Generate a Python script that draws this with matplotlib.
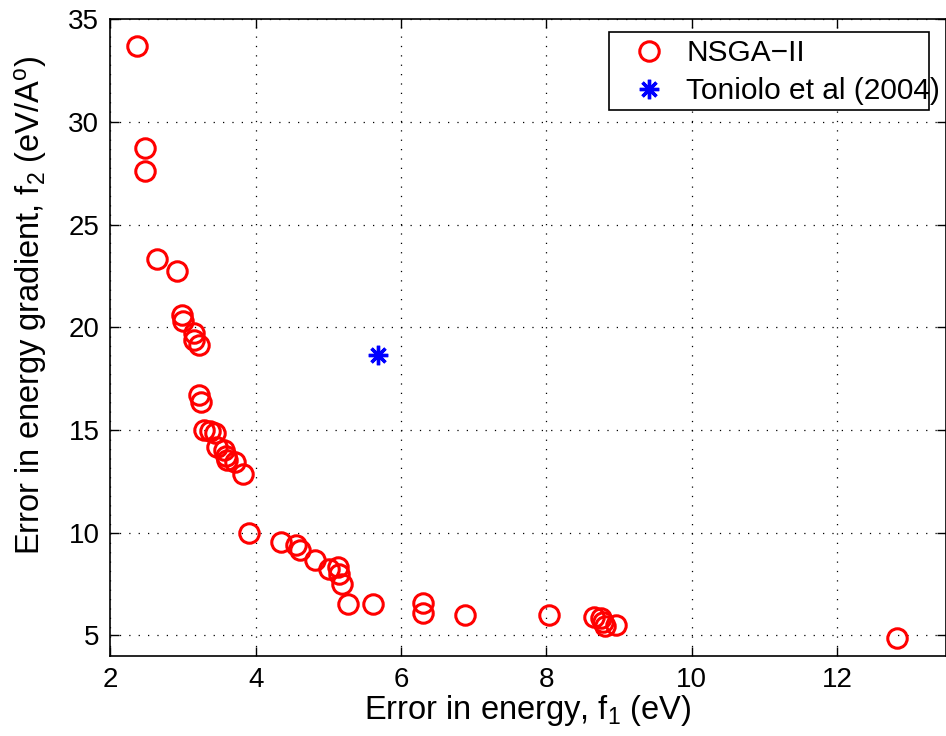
import matplotlib
matplotlib.use("Agg")
import matplotlib.pyplot as plt
from matplotlib.patches import Rectangle

# Pareto front
nsga_f1 = [2.37, 2.47, 2.48, 2.64, 2.91, 2.98, 3.00, 3.15, 3.15, 3.22,
           3.22, 3.24, 3.29, 3.37, 3.44, 3.46, 3.56, 3.59, 3.60, 3.71,
           3.82, 3.91, 4.34, 4.56, 4.61, 4.81, 5.01, 5.13, 5.15, 5.18,
           5.27, 5.62, 6.30, 6.30, 6.88, 8.04, 8.66, 8.75, 8.78, 8.81,
           8.96, 12.83]
nsga_f2 = [33.70, 28.75, 27.60, 23.34, 22.74, 20.58, 20.30, 19.72, 19.40, 19.15,
           16.69, 16.34, 15.01, 14.93, 14.85, 14.17, 14.01, 13.71, 13.52, 13.44,
           12.87, 10.00, 9.54, 9.38, 9.17, 8.68, 8.24, 8.32, 8.00, 7.51,
           6.54, 6.54, 6.58, 6.08, 6.00, 6.00, 5.89, 5.86, 5.64, 5.43,
           5.48, 4.85]

toniolo_f1 = [5.68]
toniolo_f2 = [18.67]

x_ticks = [2, 4, 6, 8, 10, 12]
y_ticks = [5, 10, 15, 20, 25, 30, 35]

plt.rcParams['font.family'] = ['Liberation Sans', 'DejaVu Sans']
plt.rcParams['mathtext.default'] = 'regular'

W, H = 946, 736
fig = plt.figure(figsize=(W / 100, H / 100), dpi=100)
ax = fig.add_axes([0.1168, 0.1091, 0.8832, 0.8647])

ax.plot(nsga_f1, nsga_f2, 'o', mfc='none', mec='red', ms=14, mew=2.2,
        linestyle='none', label='NSGA\u2212II')
ax.plot(toniolo_f1, toniolo_f2, linestyle='none', marker=(8, 2, 0), ms=14,
        mew=2.4, color='blue', label='Toniolo et al (2004)')

ax.set_xlim(2, 13.5)
ax.set_ylim(4, 35)
ax.set_xticks(x_ticks)
ax.set_yticks(y_ticks)
ax.tick_params(direction='in', top=True, right=True, labelsize=20, length=6.5,
               width=1, pad=8)
ax.grid(True, color='black', linestyle=(0, (1, 6.5)), linewidth=0.9)
for s in ax.spines.values():
    s.set_linewidth(1.2)

ax.set_xlabel('Error in energy, f$_1$ (eV)', fontsize=23.5, labelpad=0)
ax.set_ylabel('Error in energy gradient, f$_2$ (eV/A$^o$)', fontsize=23.5)
ax.yaxis.set_label_coords(-0.0736, 0.551)

# legend text runs past its box, as in the original
box = Rectangle((609 / W, 1 - 110 / H), 320 / W, 78 / H,
                transform=fig.transFigure, facecolor='white',
                edgecolor='black', linewidth=1.2, clip_on=False, zorder=4)
ax.add_patch(box)
leg = ax.legend(loc='upper left', bbox_to_anchor=(622 / W, 1 - 30 / H),
                bbox_transform=fig.transFigure, fontsize=21.5, frameon=False,
                handlelength=1.2, handletextpad=0.65, borderpad=0.3,
                labelspacing=0.35, borderaxespad=0)
leg.set_zorder(5)

fig.savefig('out.png', dpi=100)
